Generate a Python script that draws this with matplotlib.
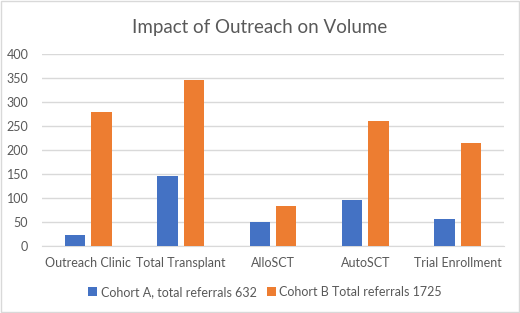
import matplotlib.pyplot as plt
import numpy as np

categories = ["Outreach Clinic", "Total Transplant", "AlloSCT", "AutoSCT", "Trial Enrollment"]
cohort_a = [24, 146, 50, 95, 56]
cohort_b = [280, 347, 84, 261, 215]
label_a = "Cohort A, total referrals 632"
label_b = "Cohort B Total referrals 1725"

BLUE = "#4472C4"
ORANGE = "#ED7D31"
TXT = "#595959"

plt.rcParams["font.family"] = ["Lato", "DejaVu Sans"]

fig = plt.figure(figsize=(5.2, 3.13), dpi=100)
fig.patch.set_facecolor("white")
ax = fig.add_axes([0.081, 0.214, 0.888, 0.613])

x = np.arange(len(categories))
w = 0.22
ax.bar(x - 0.143, cohort_a, w, color=BLUE, label=label_a, zorder=3)
ax.bar(x + 0.143, cohort_b, w, color=ORANGE, label=label_b, zorder=3)

ax.set_xlim(-0.5, len(categories) - 0.5)
ax.set_ylim(0, 400)
ax.set_yticks(range(0, 401, 50))
ax.yaxis.grid(True, color="#D9D9D9", linewidth=1, zorder=0)
ax.set_xticks(x)
ax.set_xticklabels(categories)
ax.tick_params(axis="both", length=0, labelsize=9, colors=TXT)
ax.tick_params(axis="x", pad=8)
ax.tick_params(axis="y", pad=10)
for s in ["left", "right", "top"]:
    ax.spines[s].set_visible(False)
ax.spines["bottom"].set_color("#D9D9D9")

fig.suptitle("Impact of Outreach on Volume", fontsize=13.5, color=TXT, y=0.94)
fig.legend(loc="center", bbox_to_anchor=(0.51, 0.068), ncol=2, frameon=False,
           fontsize=9, labelcolor=TXT, handlelength=0.7, handleheight=0.7,
           handletextpad=0.3, columnspacing=0.8)

# light border round the chart area
fig.add_artist(plt.Rectangle((0.002, 0.003), 0.996, 0.994, transform=fig.transFigure,
                             fill=False, edgecolor="#D9D9D9", linewidth=1))

fig.savefig("out.png", dpi=100)
